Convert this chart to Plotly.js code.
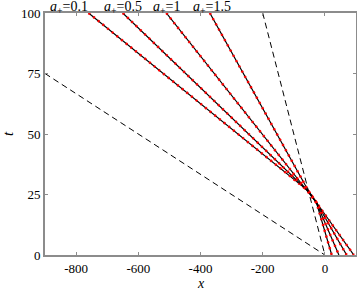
<!DOCTYPE html>
<html>
<head>
<meta charset="utf-8">
<script src="https://cdn.plot.ly/plotly-3.0.1.min.js"></script>
<style>
  html, body { margin: 0; padding: 0; background: #fff; }
  #chart { width: 357px; height: 292px; }
</style>
</head>
<body>
<div id="chart"></div>
<script>
// nilai a+ untuk setiap garis karakteristik
let aValues = [0.1, 0.5, 1, 1.5];

// posisi x setiap garis di t = 100, titik belok, dan di t = 0
let xTop = [-760, -650, -510, -370];
let tTop = [100, 100, 100, 100];
let xKinkUpper = [-51, -50, -49, -48];
let tKinkUpper = [26.2, 25.9, 25.6, 25.3];
let xKinkLower = [-30, -29, -28, -27];
let tKinkLower = [22.2, 22, 21.8, 21.6];
let xBottom = [93, 70, 45, 22];
let tBottom = [0, 0, 0, 0];

// garis putus-putus
let dashSteepX = [-200, 0];
let dashSteepT = [100, 0];
let dashShallowX = [-900, 0];
let dashShallowT = [75, 0];

// posisi label a+ di atas grafik
let labelX = [-823, -649, -508, -363];

// label sumbu
let xTickVals = [-800, -600, -400, -200, 0];
let xTickText = ['-800', '-600', '-400', '-200', '0'];
let yTickVals = [0, 25, 50, 75, 100];
let yTickText = ['0', '25', '50', '75', '100'];

let fontFamily = '"Liberation Serif", "DejaVu Serif", serif';
let axisColor = '#8c8c8c';

let data = [];

data.push({
    x: dashSteepX,
    y: dashSteepT,
    mode: 'lines',
    line: { color: 'black', width: 1, dash: '6px,4px' },
    hoverinfo: 'skip'
});

data.push({
    x: dashShallowX,
    y: dashShallowT,
    mode: 'lines',
    line: { color: 'black', width: 1, dash: '6px,4px' },
    hoverinfo: 'skip'
});

for (let i = 0; i < aValues.length; i++) {
    let xs = [xTop[i], xKinkUpper[i], xKinkLower[i], xBottom[i]];
    let ts = [tTop[i], tKinkUpper[i], tKinkLower[i], tBottom[i]];

    // garis hitam (analitik)
    data.push({
        x: xs,
        y: ts,
        mode: 'lines',
        line: { color: 'black', width: 1.2 },
        hoverinfo: 'skip'
    });

    // titik merah (numerik)
    data.push({
        x: xs,
        y: ts,
        mode: 'lines',
        line: { color: 'red', width: 2.5, dash: '2px,4px' },
        hoverinfo: 'skip'
    });
}

let annotations = [];
for (let i = 0; i < aValues.length; i++) {
    annotations.push({
        x: labelX[i],
        y: 100,
        xref: 'x',
        yref: 'y',
        yanchor: 'middle',
        xanchor: 'center',
        yshift: 6,
        showarrow: false,
        text: '<i>a</i><sub>+</sub>=' + aValues[i],
        font: { family: fontFamily, size: 14, color: 'black' }
    });
}

// label sumbu x diletakkan manual agar posisinya sama
annotations.push({
    x: 0.5,
    y: 0,
    xref: 'paper',
    yref: 'paper',
    yanchor: 'middle',
    xanchor: 'center',
    yshift: -28,
    showarrow: false,
    text: '<i>x</i>',
    font: { family: fontFamily, size: 14, color: 'black' }
});

let layout = {
    width: 357,
    height: 292,
    margin: { l: 45, r: 1, t: 13, b: 37 },
    paper_bgcolor: 'white',
    plot_bgcolor: 'white',
    showlegend: false,
    font: { family: fontFamily, size: 13, color: 'black' },
    xaxis: {
        range: [-900, 100],
        tickvals: xTickVals,
        ticktext: xTickText,
        ticks: 'inside',
        ticklen: 3,
        tickcolor: axisColor,
        showgrid: false,
        zeroline: false,
        showline: true,
        linecolor: axisColor,
        linewidth: 2,
        mirror: 'ticks'
    },
    yaxis: {
        range: [0, 100],
        tickvals: yTickVals,
        ticktext: yTickText,
        ticks: 'inside',
        ticklen: 3,
        tickcolor: axisColor,
        showgrid: false,
        zeroline: false,
        showline: true,
        linecolor: axisColor,
        linewidth: 2,
        mirror: 'ticks',
        title: { text: '<i>t</i>', font: { family: fontFamily, size: 15 }, standoff: 10 }
    },
    annotations: annotations
};

Plotly.newPlot('chart', data, layout, { displayModeBar: false, staticPlot: true });
</script>
</body>
</html>
